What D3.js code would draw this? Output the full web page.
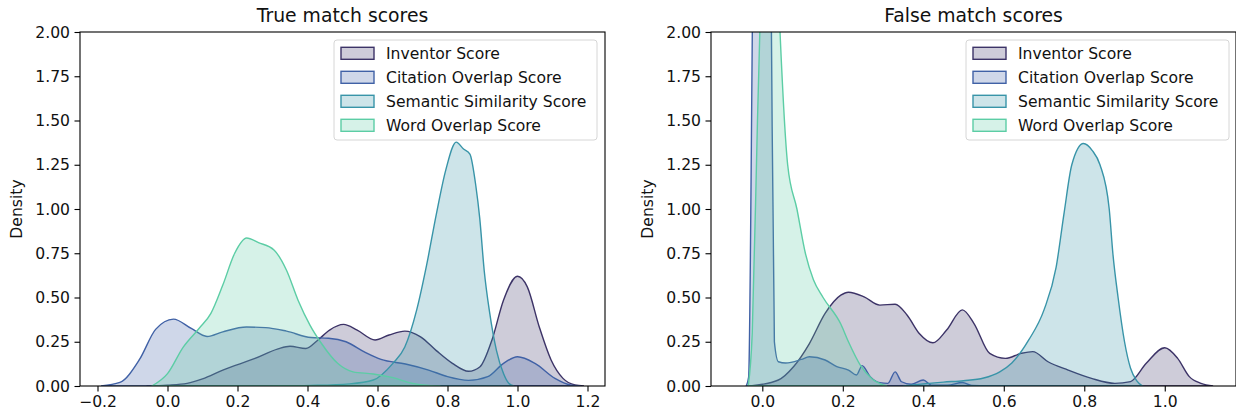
<!DOCTYPE html>
<html>
<head>
<meta charset="utf-8">
<script src="https://cdn.jsdelivr.net/npm/d3@7"></script>
<style>
  body { margin: 0; background: #fff; }
  text { font-family: 'DejaVu Sans', sans-serif; fill: #111; }
</style>
</head>
<body>
<script>
// KDE curves: [score, density]
const seriesNames = ['Inventor Score', 'Citation Overlap Score', 'Semantic Similarity Score', 'Word Overlap Score'];
const seriesColors = ['#3c3367', '#4061a6', '#3894a8', '#5ccda5'];

const trueInventor = [[-0.06,0],[0.0,0.005],[0.056,0.015],[0.1,0.04],[0.158,0.09],[0.25,0.156],[0.316,0.21],[0.35,0.225],[0.395,0.212],[0.43,0.26],[0.463,0.316],[0.503,0.348],[0.542,0.316],[0.593,0.26],[0.633,0.288],[0.678,0.31],[0.723,0.278],[0.768,0.2],[0.814,0.128],[0.86,0.083],[0.893,0.109],[0.927,0.26],[0.96,0.485],[1.0,0.62],[1.028,0.56],[1.062,0.335],[1.096,0.147],[1.13,0.043],[1.164,0.006],[1.19,0]];
const trueCitation = [[-0.19,0],[-0.136,0.02],[-0.08,0.15],[-0.034,0.32],[0.017,0.378],[0.068,0.325],[0.113,0.28],[0.158,0.306],[0.226,0.333],[0.28,0.33],[0.34,0.31],[0.41,0.274],[0.46,0.27],[0.51,0.25],[0.565,0.19],[0.61,0.15],[0.68,0.124],[0.746,0.09],[0.80,0.053],[0.86,0.032],[0.915,0.053],[0.96,0.128],[1.0,0.165],[1.05,0.128],[1.107,0.043],[1.153,0.005],[1.18,0]];
const trueSemantic = [[0.30,0],[0.41,0.003],[0.52,0.012],[0.588,0.034],[0.644,0.128],[0.678,0.22],[0.712,0.43],[0.74,0.68],[0.768,0.97],[0.795,1.22],[0.825,1.378],[0.845,1.34],[0.864,1.31],[0.881,1.13],[0.892,0.95],[0.905,0.65],[0.92,0.42],[0.94,0.2],[0.96,0.07],[0.975,0.015],[0.99,0]];
const trueWord = [[-0.045,0],[0.0,0.07],[0.045,0.22],[0.09,0.325],[0.124,0.41],[0.158,0.57],[0.192,0.75],[0.226,0.836],[0.26,0.81],[0.305,0.767],[0.34,0.654],[0.373,0.485],[0.407,0.344],[0.44,0.24],[0.486,0.128],[0.53,0.08],[0.588,0.068],[0.644,0.047],[0.70,0.015],[0.746,0.003],[0.78,0]];

const falseInventor = [[-0.03,0],[0.04,0.034],[0.078,0.11],[0.117,0.24],[0.156,0.41],[0.195,0.513],[0.214,0.53],[0.253,0.504],[0.292,0.457],[0.33,0.462],[0.36,0.4],[0.39,0.297],[0.424,0.244],[0.458,0.316],[0.497,0.43],[0.526,0.353],[0.565,0.184],[0.604,0.156],[0.643,0.184],[0.672,0.194],[0.71,0.137],[0.76,0.09],[0.818,0.043],[0.876,0.015],[0.915,0.025],[0.954,0.128],[1.0,0.216],[1.032,0.156],[1.061,0.053],[1.09,0.015],[1.12,0]];
const falseCitation = [[-0.04,0],[-0.034,0.05],[-0.024,2.2],[-0.012,5.0],[0.0,6.0],[0.012,5.0],[0.022,2.2],[0.03,0.25],[0.04,0.137],[0.058,0.13],[0.097,0.15],[0.117,0.165],[0.156,0.147],[0.185,0.11],[0.214,0.09],[0.234,0.062],[0.248,0.115],[0.268,0.053],[0.292,0.019],[0.312,0.015],[0.33,0.08],[0.346,0.024],[0.37,0.01],[0.40,0.034],[0.42,0.005],[0.46,0.004],[0.497,0.02],[0.52,0.003],[0.63,0]];
const falseSemantic = [[0.35,0],[0.40,0.012],[0.45,0.022],[0.5,0.03],[0.55,0.045],[0.59,0.08],[0.62,0.13],[0.662,0.26],[0.70,0.43],[0.73,0.67],[0.75,0.98],[0.769,1.25],[0.798,1.37],[0.82,1.33],[0.839,1.25],[0.862,1.0],[0.871,0.75],[0.884,0.5],[0.9,0.25],[0.915,0.1],[0.93,0.03],[0.945,0]];
const falseWord = [[-0.035,0],[-0.025,0.3],[-0.012,1.5],[-0.005,2.1],[0.01,3.5],[0.025,3.2],[0.044,2.0],[0.063,1.25],[0.086,1.0],[0.107,0.75],[0.127,0.6],[0.151,0.5],[0.195,0.35],[0.214,0.25],[0.243,0.12],[0.273,0.04],[0.31,0]];

const yTicks = [0, 0.25, 0.5, 0.75, 1.0, 1.25, 1.5, 1.75, 2.0];
const trueXTicks = [-0.2, 0.0, 0.2, 0.4, 0.6, 0.8, 1.0, 1.2];
const falseXTicks = [0.0, 0.2, 0.4, 0.6, 0.8, 1.0];

const width = 1236;
const height = 419;
const fontSize = 15.6;

const svg = d3.select('body')
  .append('svg')
  .attr('width', width)
  .attr('height', height);

const panels = [
  {id: 'p0', title: 'True match scores', left: 80, right: 605, xDomain: [-0.25, 1.25], xTicks: trueXTicks,
   series: [trueInventor, trueCitation, trueSemantic, trueWord], legendX: 334},
  {id: 'p1', title: 'False match scores', left: 711, right: 1236, xDomain: [-0.1275, 1.177], xTicks: falseXTicks,
   series: [falseInventor, falseCitation, falseSemantic, falseWord], legendX: 966}
];

const plotTop = 32;
const plotBottom = 386;

panels.forEach(p => {
  const xScale = d3.scaleLinear().domain(p.xDomain).range([p.left, p.right]);
  const yScale = d3.scaleLinear().domain([0, 2]).range([plotBottom, plotTop]);

  svg.append('clipPath').attr('id', 'clip-' + p.id)
    .append('rect')
    .attr('x', p.left).attr('y', plotTop)
    .attr('width', p.right - p.left).attr('height', plotBottom - plotTop);

  const area = d3.area()
    .x(d => xScale(d[0]))
    .y0(yScale(0))
    .y1(d => yScale(d[1]))
    .curve(d3.curveMonotoneX);

  // the density areas, drawn in hue order
  svg.append('g')
    .attr('clip-path', `url(#clip-${p.id})`)
    .selectAll('path')
    .data(p.series)
    .join('path')
    .attr('d', d => area(d))
    .attr('fill', (d, i) => seriesColors[i])
    .attr('fill-opacity', 0.25)
    .attr('stroke', (d, i) => seriesColors[i])
    .attr('stroke-width', 1.4);

  // Axes
  const yAxis = d3.axisLeft(yScale).tickValues(yTicks).tickFormat(d3.format('.2f')).tickSize(5.5).tickPadding(4.5);
  const gy = svg.append('g')
    .attr('transform', `translate(${p.left},0)`)
    .call(yAxis);

  const xAxis = d3.axisBottom(xScale).tickValues(p.xTicks).tickFormat(d3.format('.1f')).tickSize(5.5).tickPadding(4);
  const gx = svg.append('g')
    .attr('transform', `translate(0,${plotBottom})`)
    .call(xAxis);

  [gx, gy].forEach(g => {
    g.select('.domain').remove();
    g.selectAll('line').attr('stroke', '#000').attr('stroke-width', 1.1);
    g.selectAll('text').attr('font-size', fontSize).attr('fill', '#111').style('font-family', "'DejaVu Sans', sans-serif");
  });

  // frame
  svg.append('rect')
    .attr('x', p.left).attr('y', plotTop)
    .attr('width', p.right - p.left).attr('height', plotBottom - plotTop)
    .attr('fill', 'none')
    .attr('stroke', '#000')
    .attr('stroke-width', 1.1);

  svg.append('text')
    .attr('x', (p.left + p.right) / 2)
    .attr('y', 22)
    .attr('text-anchor', 'middle')
    .attr('font-size', 18.8)
    .text(p.title);

  svg.append('text')
    .attr('transform', `translate(${p.left - 58},${(plotTop + plotBottom) / 2}) rotate(-90)`)
    .attr('text-anchor', 'middle')
    .attr('font-size', fontSize)
    .text('Density');

  // legend
  const lg = svg.append('g').attr('transform', `translate(${p.legendX},40)`);
  lg.append('rect')
    .attr('width', 263).attr('height', 100)
    .attr('rx', 3)
    .attr('fill', '#fff').attr('fill-opacity', 0.8)
    .attr('stroke', '#d6d6d6');

  const rows = lg.selectAll('g.row')
    .data(seriesNames)
    .join('g')
    .attr('class', 'row')
    .attr('transform', (d, i) => `translate(0,${13.3 + i * 24})`);

  rows.append('rect')
    .attr('x', 7).attr('y', -6)
    .attr('width', 33).attr('height', 12)
    .attr('fill', (d, i) => seriesColors[i])
    .attr('fill-opacity', 0.25)
    .attr('stroke', (d, i) => seriesColors[i])
    .attr('stroke-width', 1.4);

  rows.append('text')
    .attr('x', 52)
    .attr('dy', '0.35em')
    .attr('font-size', fontSize)
    .text(d => d);
});
</script>
</body>
</html>
